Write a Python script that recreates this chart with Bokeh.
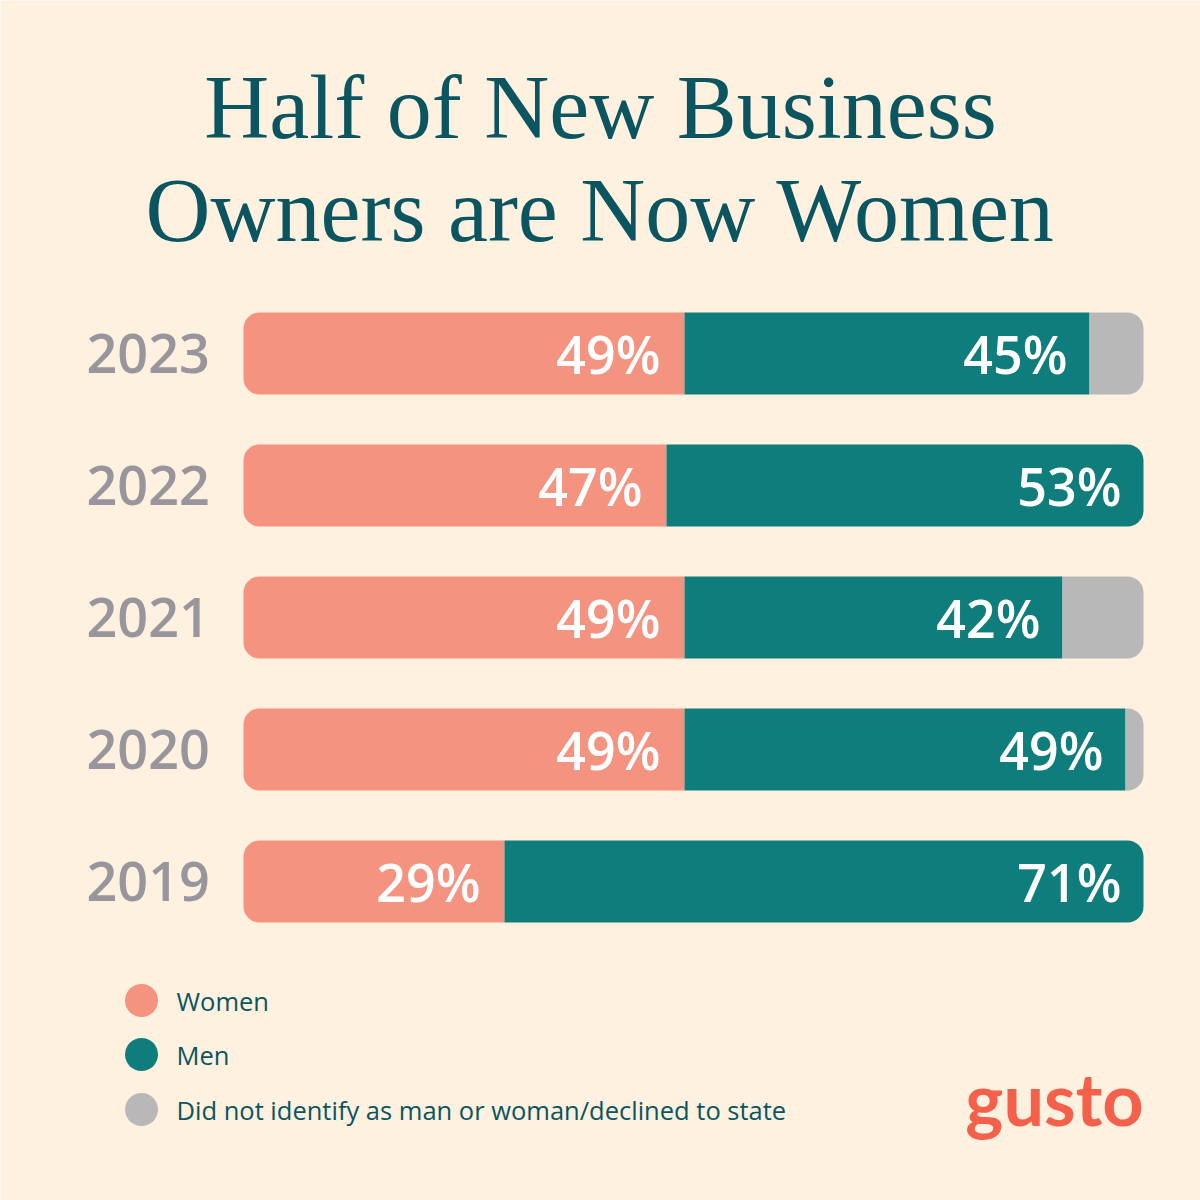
from bokeh.plotting import figure
from bokeh.models import Range1d
from bokeh.core.properties import value
from bokeh.embed import file_html
from bokeh.resources import INLINE

# ---- data ----
years = ["2023", "2022", "2021", "2020", "2019"]
women = [49, 47, 49, 49, 29]
men = [45, 53, 42, 49, 71]
other = [100 - w - m for w, m in zip(women, men)]
series = ["Women", "Men", "Did not identify as man or woman/declined to state"]
title_lines = ["Half of New Business", "Owners are Now Women"]

# ---- style ----
BG = "#FEF1DF"
CORAL = "#F4937F"
TEAL = "#0E7D7B"
GRAY = "#B8B8B8"
DARK = "#0A5560"
YEARGRAY = "#99959C"
LOGO = "#F4604A"
colors = [CORAL, TEAL, GRAY]
SANS = "Open Sans"
SEMI = "Open Sans SemiBold"

W = H = 1200
X0, SX = 243.0, 9.0      # pixel of 0 %, pixels per %
Y0, SY = 353.0, 132.0    # pixel of first bar centre, pixels per row

def dx(px):
    return (px - X0) / SX

def dy(py):
    return (py - Y0) / SY

p = figure(width=W, height=H, output_backend="svg", toolbar_location=None,
           x_range=Range1d(dx(0), dx(W)), y_range=Range1d(dy(H), dy(0)),
           min_border=0, background_fill_color=BG, border_fill_color=BG)
p.axis.visible = False
p.grid.visible = False
p.outline_line_color = None

idx = list(range(len(years)))
BH = 82.0 / SY
R = 16

# women segments (rounded left)
p.hbar(y=idx, left=[0] * len(idx), right=women, height=BH, color=CORAL,
       line_color=None, border_radius=(R, 0, 0, R))

# men segments
sq = [i for i in idx if other[i] > 0]
rd = [i for i in idx if other[i] == 0]
p.hbar(y=sq, left=[women[i] for i in sq], right=[women[i] + men[i] for i in sq],
       height=BH, color=TEAL, line_color=None)
p.hbar(y=rd, left=[women[i] for i in rd], right=[women[i] + men[i] for i in rd],
       height=BH, color=TEAL, line_color=None, border_radius=(0, R, R, 0))
# other segments
p.hbar(y=sq, left=[women[i] + men[i] for i in sq], right=[100] * len(sq),
       height=BH, color=GRAY, line_color=None, border_radius=(0, R, R, 0))

# percentage labels
p.text(x=women, y=idx, text=[f"{v}%" for v in women], text_color="white",
       text_font=value(SEMI), text_font_size="52px",
       text_align="right", text_baseline="middle", x_offset=-24, y_offset=0)
p.text(x=[w + m for w, m in zip(women, men)], y=idx, text=[f"{v}%" for v in men],
       text_color="white", text_font=value(SEMI),
       text_font_size="52px", text_align="right", text_baseline="middle",
       x_offset=-22, y_offset=0)

# year labels
p.text(x=[dx(86)] * len(idx), y=idx, text=years, text_color=YEARGRAY,
       text_font=value(SEMI), text_font_size="54px",
       text_align="left", text_baseline="middle", y_offset=0)

# title
p.text(x=[dx(600)] * 2, y=[dy(107), dy(210)], text=title_lines, text_color=DARK,
       text_font=value("Liberation Serif"),
       text_font_size="90px", text_align="center", text_baseline="alphabetic")

# legend
ly = [dy(1000), dy(1054), dy(1109)]
p.scatter(x=[dx(141)] * 3, y=ly, size=33, color=colors, line_color=None)
p.text(x=[dx(176)] * 3, y=ly, text=series, text_color=DARK,
       text_font=value(SANS), text_font_size="25.5px",
       text_align="left", text_baseline="middle")

# logo
p.text(x=[dx(1143)], y=[dy(1097)], text=["gusto"], text_color=LOGO,
       text_font=value("Lato"), text_font_style="bold", text_font_size="72px",
       text_align="right", text_baseline="alphabetic")

open("out.html", "w").write(file_html(p, INLINE))
